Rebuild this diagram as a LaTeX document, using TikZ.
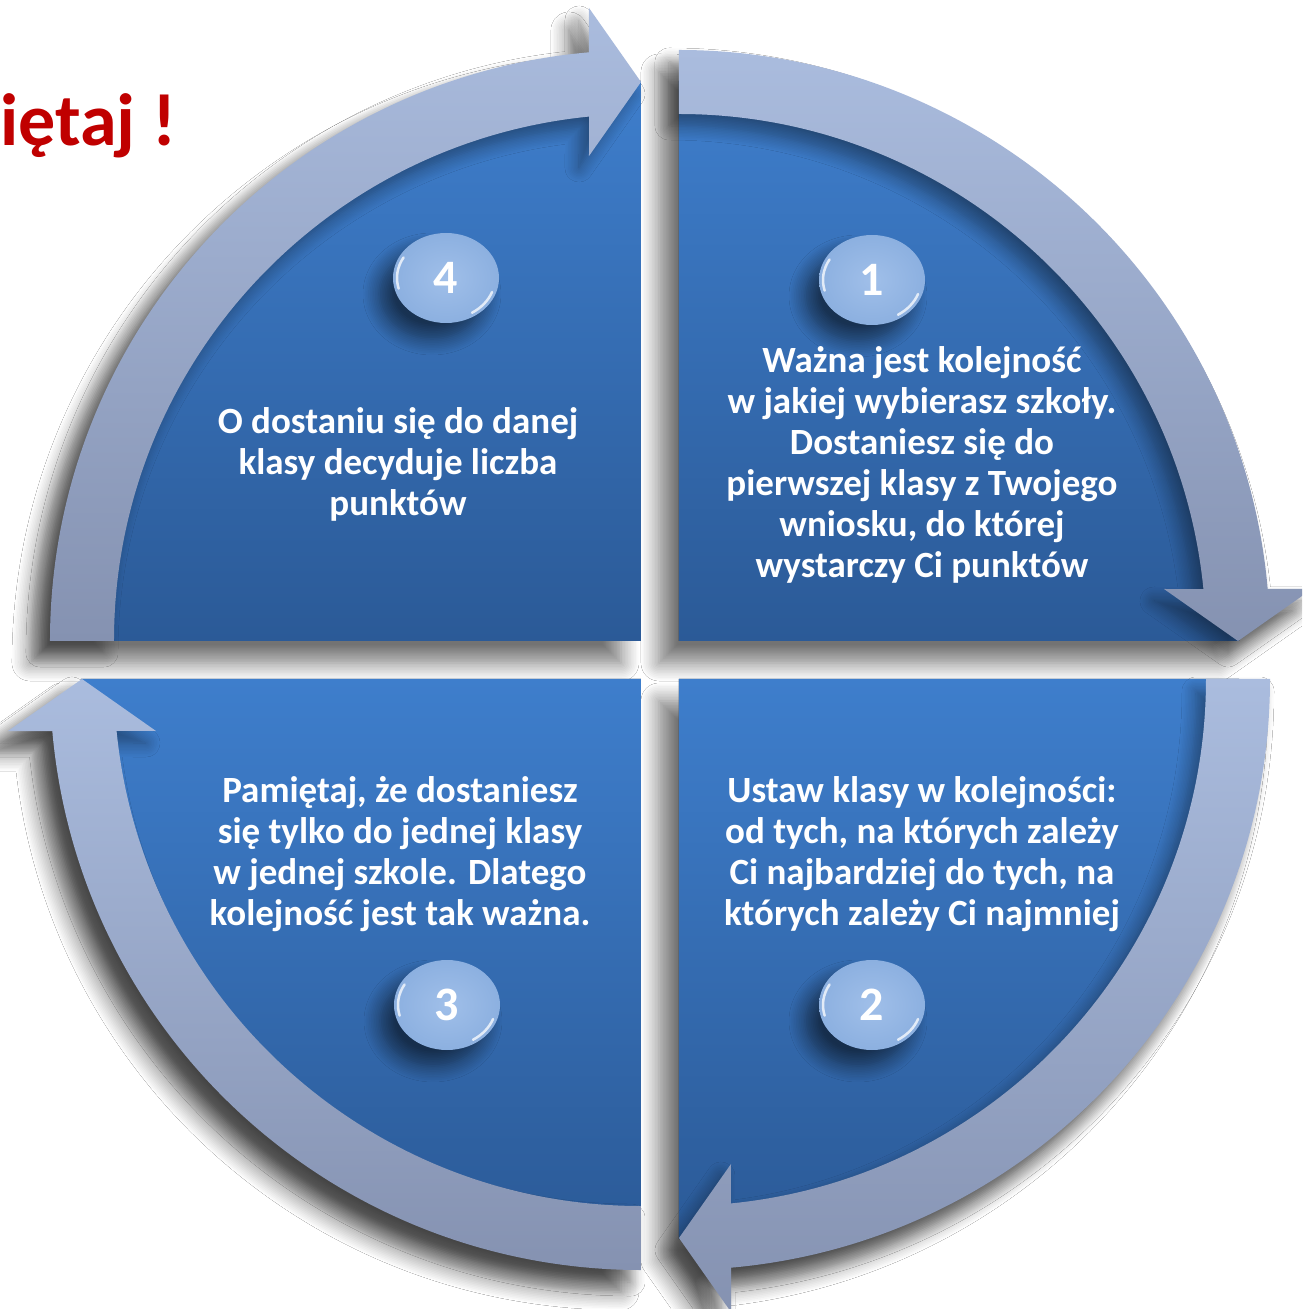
\documentclass[tikz,border=0pt]{standalone}
\usepackage{fontspec}
\setmainfont{Carlito}
\usetikzlibrary{shadows.blur,shapes.geometric}
\definecolor{qtop}{HTML}{3E7ECC}
\definecolor{qbot}{HTML}{2B5A97}
\definecolor{atop}{HTML}{AABCDE}
\definecolor{abot}{HTML}{8592B1}
\definecolor{bubout}{HTML}{8CB0E0}
\definecolor{bubin}{HTML}{A0BFE9}
\definecolor{titlered}{HTML}{C00000}
\tikzset{
  quad/.style={top color=qtop, bottom color=qbot, draw=none},
  ringarrow/.style={top color=atop, bottom color=abot, draw=none},
  outershadow/.style={blur shadow={shadow xshift=-20pt, shadow yshift=-22pt,
      shadow blur radius=18pt, shadow blur steps=12, shadow opacity=55}},
  innershadow/.style={blur shadow={shadow xshift=-10pt, shadow yshift=-12pt,
      shadow blur radius=14pt, shadow blur steps=10, shadow opacity=40}},
  bubble/.style={ellipse, minimum width=106pt, minimum height=90pt, inner sep=0pt,
      inner color=bubin, outer color=bubout, text=white,
      font=\fontsize{48}{50}\selectfont\bfseries,
      blur shadow={shadow xshift=-14pt, shadow yshift=-16pt, shadow blur radius=16pt,
      shadow blur steps=10, shadow opacity=55}},
  hl/.style={white, line width=2.5pt, line cap=round, opacity=.75},
  txt/.style={text=white, align=center, inner sep=0pt,
      font=\fontsize{37}{41}\selectfont\bfseries},
}
\begin{document}
\begin{tikzpicture}[x=1pt,y=1pt]
\useasboundingbox (-660,-649) rectangle (642,660);
\clip (-660,-649) rectangle (642,660);
\fill[white] (-660,-649) rectangle (642,660);

% ---- overall soft shadows
\begin{scope}[shift={(-19,19)}]
  \path[outershadow] (0,0) -- (180:591) arc[start angle=180,end angle=95.05,radius=591] -- (-52,633) -- (0,559) -- cycle;
\end{scope}
\begin{scope}[shift={(19,19)}]
  \path[outershadow] (0,0) -- (90:591) arc[start angle=90,end angle=5.05,radius=591] -- (633,52) -- (559,0) -- cycle;
\end{scope}
\begin{scope}[shift={(19,-19)}]
  \path[outershadow] (0,0) -- (0:591) arc[start angle=0,end angle=-84.95,radius=591] -- (52,-633) -- (0,-559) -- cycle;
\end{scope}
\begin{scope}[shift={(-19,-19)}]
  \path[outershadow] (0,0) -- (270:591) arc[start angle=270,end angle=185.05,radius=591] -- (-633,-52) -- (-559,0) -- cycle;
\end{scope}

% ---- blue quadrants
\begin{scope}[shift={(-19,19)}]
  \fill[quad] (0,0) -- (180:560) arc[start angle=180,end angle=90,radius=560] -- cycle;
\end{scope}
\begin{scope}[shift={(19,19)}]
  \fill[quad] (0,0) -- (90:560) arc[start angle=90,end angle=0,radius=560] -- cycle;
\end{scope}
\begin{scope}[shift={(19,-19)}]
  \fill[quad] (0,0) -- (0:560) arc[start angle=0,end angle=-90,radius=560] -- cycle;
\end{scope}
\begin{scope}[shift={(-19,-19)}]
  \fill[quad] (0,0) -- (-90:560) arc[start angle=-90,end angle=-180,radius=560] -- cycle;
\end{scope}

% ---- curved arrows (with shadow cast on the quadrants)
\begin{scope}[shift={(-19,19)}]
  \path[innershadow, ringarrow] (180:591) arc[start angle=180,end angle=95.05,radius=591]
     -- (-52,633) -- (0,559) -- (-52,485) -- (95.66:527)
     arc[start angle=95.66,end angle=180,radius=527] -- cycle;
\end{scope}
\begin{scope}[shift={(19,19)}]
  \path[innershadow, ringarrow] (90:591) arc[start angle=90,end angle=5.05,radius=591]
     -- (633,52) -- (559,0) -- (485,52) -- (5.66:527)
     arc[start angle=5.66,end angle=90,radius=527] -- cycle;
\end{scope}
\begin{scope}[shift={(19,-19)}]
  \path[innershadow, ringarrow] (0:591) arc[start angle=0,end angle=-84.95,radius=591]
     -- (52,-633) -- (0,-559) -- (52,-485) -- (-84.34:527)
     arc[start angle=-84.34,end angle=0,radius=527] -- cycle;
\end{scope}
\begin{scope}[shift={(-19,-19)}]
  \path[innershadow, ringarrow] (270:591) arc[start angle=270,end angle=185.05,radius=591]
     -- (-633,-52) -- (-559,0) -- (-485,-52) -- (185.66:527)
     arc[start angle=185.66,end angle=270,radius=527] -- cycle;
\end{scope}

% ---- number bubbles
\node[bubble] (b4) at (-214,382) {4};
\node[bubble] (b1) at (212,380) {1};
\node[bubble] (b3) at (-213,-345) {3};
\node[bubble] (b2) at (212,-345) {2};
\foreach \b in {b1,b2,b3,b4}{
  \draw[hl] (\b.center) ++(150:49 and 41) arc[start angle=150,end angle=195,x radius=49,y radius=41];
  \draw[hl] (\b.center) ++(-20:49 and 41) arc[start angle=-20,end angle=-58,x radius=49,y radius=41];
}

% ---- texts
\node[txt] (t4) at (-262,196) {O dostaniu się do danej\\klasy decyduje liczba\\punktów};
\node[txt] (t1) at (262,195) {Ważna jest kolejność\\w jakiej wybierasz szkoły.\\Dostaniesz się do\\pierwszej klasy z Twojego\\wniosku, do której\\wystarczy Ci punktów};
\node[txt] (t3) at (-260,-194) {Pamiętaj, że dostaniesz\\się tylko do jednej klasy\\w jednej szkole. Dlatego\\kolejność jest tak ważna.};
\node[txt] (t2) at (262,-194) {Ustaw klasy w kolejności:\\od tych, na których zależy\\Ci najbardziej do tych, na\\których zależy Ci najmniej};

% ---- title
\node[anchor=base west, inner sep=0pt, text=titlered,
      font=\fontsize{74}{80}\selectfont\bfseries] (title) at (-660,514) {iętaj !};
\end{tikzpicture}
\end{document}
